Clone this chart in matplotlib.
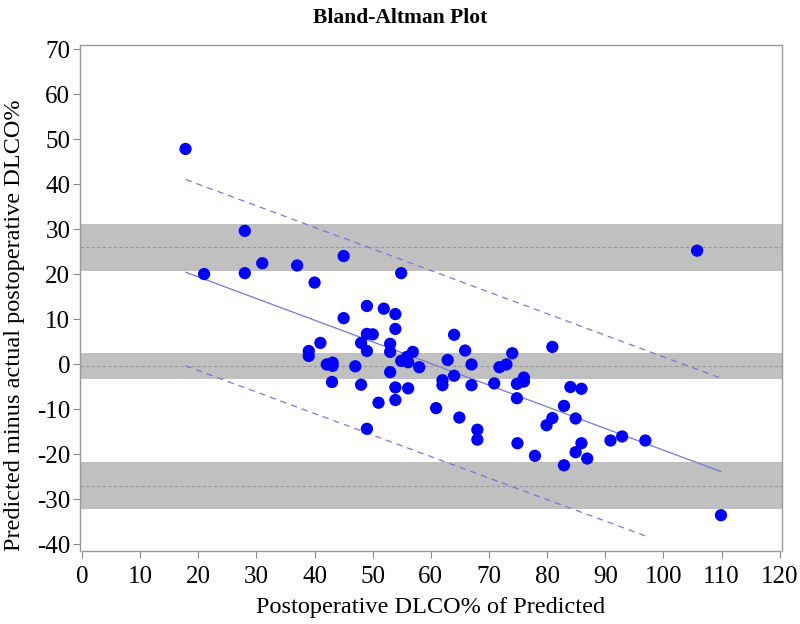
import matplotlib
matplotlib.use("Agg")
import matplotlib.pyplot as plt

# ---- data ----
x_vals = [17.8, 28.0, 21.0, 28.0, 31.0, 37.0, 40.0, 45.0, 54.9, 49.0,
          51.9, 53.9, 45.0, 53.9, 49.0, 50.0, 41.0, 48.0, 53.0, 53.0,
          49.0, 39.0, 39.0, 56.9, 55.9, 54.9, 56.1, 42.1, 43.1, 43.1,
          47.0, 58.0, 53.0, 43.0, 48.0, 53.9, 56.1, 53.9, 51.0, 60.9,
          49.0, 64.0, 80.9, 65.9, 62.9, 67.0, 74.0, 73.0, 71.8, 64.0,
          62.0, 62.0, 67.0, 70.9, 76.0, 76.0, 74.8, 74.8, 84.0, 85.9,
          64.9, 82.9, 80.9, 79.9, 84.9, 68.0, 68.0, 74.9, 77.9, 85.9,
          84.9, 86.9, 82.9, 90.9, 92.9, 96.9, 109.9, 105.8]
y_vals = [47.8, 29.6, 20.0, 20.2, 22.4, 21.9, 18.1, 24.0, 20.2, 12.9,
          12.3, 11.1, 10.2, 7.8, 6.7, 6.6, 4.7, 4.7, 4.5, 2.7,
          2.9, 2.9, 1.8, 2.7, 1.6, 0.7, 0.4, -0.1, 0.3, -0.4,
          -0.5, -0.7, -1.8, -4.0, -4.6, -5.2, -5.4, -8.0, -8.6, -9.8,
          -14.4, 6.5, 3.8, 3.0, 0.9, -0.1, 2.4, -0.1, -0.7, -2.6,
          -3.6, -4.7, -4.7, -4.3, -3.0, -3.9, -4.4, -7.6, -5.1, -5.5,
          -11.9, -9.3, -12.0, -13.6, -12.1, -14.6, -16.8, -17.6, -20.4, -17.6,
          -19.6, -21.0, -22.5, -17.0, -16.1, -17.0, -33.6, 25.2]

# horizontal reference levels: (band low, center, band high)
upper_loa = (20.7, 25.9, 31.1)
mean_diff = (-3.4, -0.5, 2.4)
lower_loa = (-32.2, -27.0, -21.8)

# regression line and its limits
reg_x = [17.85, 109.9]
reg_y = [20.4, -23.9]
up_x = [17.85, 110.0]
up_y = [41.0, -3.2]
lo_x = [17.8, 96.9]
lo_y = [-0.4, -38.2]

x_ticks = list(range(0, 121, 10))
y_ticks = list(range(-40, 71, 10))

title = "Bland-Altman Plot"
xlabel = "Postoperative DLCO% of Predicted"
ylabel = "Predicted minus actual postoperative DLCO%"

# ---- figure ----
plt.rcParams['font.family'] = ['Liberation Serif', 'DejaVu Serif']
plt.rcParams['axes.unicode_minus'] = False
fig = plt.figure(figsize=(8, 6.24), dpi=100)
ax = fig.add_axes([0.1, 1 - 551 / 624, (782 - 80) / 800, (551 - 45) / 624])
ax.set_xlim(-0.35, 120.4)
ax.set_ylim(-41.55, 70.9)

band_color = '#c0c0c0'
for lo, c, hi in (upper_loa, mean_diff, lower_loa):
    ax.axhspan(lo, hi, color=band_color, lw=0, zorder=1)
    ax.axhline(c, color='#999999', lw=0.8, ls=(0, (3, 2)), zorder=2)

ax.plot(reg_x, reg_y, color='#7777dd', lw=0.9, zorder=3)
ax.plot(up_x, up_y, color='#7777dd', lw=0.9, ls=(0, (5, 4)), zorder=3)
ax.plot(lo_x, lo_y, color='#7777dd', lw=0.9, ls=(0, (5, 4)), zorder=3)

ax.scatter(x_vals, y_vals, s=78, color='#0000ff', edgecolors='none', zorder=4)

ax.set_xticks(x_ticks)
ax.set_yticks(y_ticks)
ax.tick_params(axis='both', direction='out', length=5, width=0.8,
               color='#888888', labelsize=18)
ax.tick_params(axis='x', pad=6)
ax.tick_params(axis='y', pad=2)
for sp in ax.spines.values():
    sp.set_color('#999999')
    sp.set_linewidth(1.0)
ax.spines['bottom'].set_bounds(0, 120)

ax.set_xlabel(xlabel, fontsize=17.5, labelpad=6)
ax.set_ylabel(ylabel, fontsize=17.5)
ax.yaxis.set_label_coords(-0.079, 0.447)
fig.text(0.5, 1 - 18 / 624, title, ha='center', va='center',
         fontsize=15.5, fontweight='bold')

fig.savefig('out.png', dpi=100)
